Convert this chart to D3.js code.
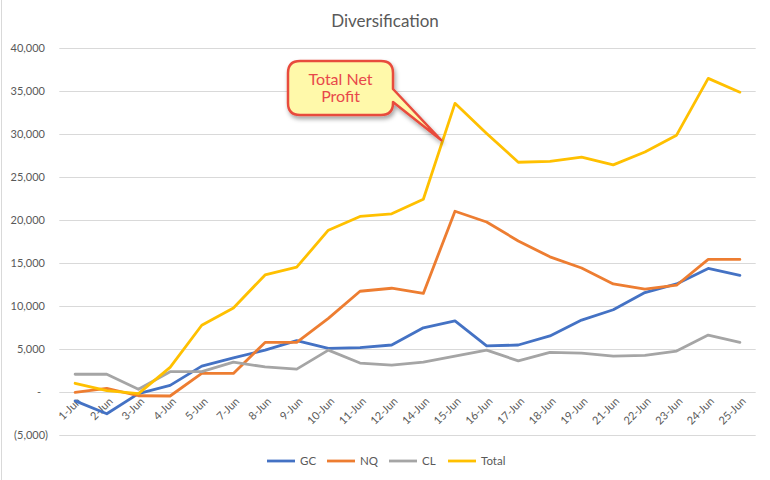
<!DOCTYPE html>
<html>
<head>
<meta charset="utf-8">
<script src="https://cdn.jsdelivr.net/npm/d3@7"></script>
<style>
    body { margin: 0; background: #fff; }
    svg { display: block; font-family: Lato, "Noto Sans", sans-serif; }
</style>
</head>
<body>
<svg id="chart"></svg>
<script>
const WIDTH = 770;
const HEIGHT = 480;

// data
const dates = ['1-Jun', '2-Jun', '3-Jun', '4-Jun', '5-Jun', '7-Jun', '8-Jun', '9-Jun', '10-Jun', '11-Jun', '12-Jun',
    '14-Jun', '15-Jun', '16-Jun', '17-Jun', '18-Jun', '19-Jun', '21-Jun', '22-Jun', '23-Jun', '24-Jun', '25-Jun'];
const gcValues = [-1000, -2500, -150, 800, 3050, 4000, 4900, 6000, 5100, 5200, 5500,
    7500, 8300, 5400, 5500, 6550, 8400, 9600, 11600, 12600, 14400, 13600];
const nqValues = [0, 450, -400, -430, 2200, 2200, 5800, 5800, 8600, 11750, 12100,
    11500, 21050, 19800, 17600, 15750, 14450, 12600, 12000, 12450, 15450, 15450];
const clValues = [2100, 2100, 350, 2400, 2400, 3500, 2950, 2700, 4900, 3400, 3150,
    3500, 4200, 4900, 3650, 4650, 4550, 4200, 4300, 4800, 6650, 5800];
const totalValues = [1050, 200, -150, 2900, 7800, 9800, 13650, 14550, 18850, 20450, 20750,
    22450, 33600, 30100, 26750, 26850, 27350, 26450, 27950, 29900, 36500, 34900];
const yTicks = [-5000, 0, 5000, 10000, 15000, 20000, 25000, 30000, 35000, 40000];

const seriesNames = ['GC', 'NQ', 'CL', 'Total'];
const seriesValues = [gcValues, nqValues, clValues, totalValues];
const seriesColors = ['#4472C4', '#ED7D31', '#A5A5A5', '#FFC000'];

const margin = { left: 59.3, right: 14.3, top: 48.3, bottom: 44.7 };

const svg = d3.select('#chart')
    .attr('width', WIDTH)
    .attr('height', HEIGHT);

// chart frame (only left edge visible in the crop)
svg.append('line')
    .attr('x1', 1.5).attr('x2', 1.5)
    .attr('y1', 0).attr('y2', HEIGHT)
    .attr('stroke', '#D9D9D9');

const x = d3.scalePoint()
    .domain(dates)
    .range([margin.left, WIDTH - margin.right])
    .padding(0.5);

const y = d3.scaleLinear()
    .domain([-5000, 40000])
    .range([HEIGHT - margin.bottom, margin.top]);

// title
svg.append('text')
    .attr('x', 385)
    .attr('y', 27)
    .attr('text-anchor', 'middle')
    .style('font-size', '17px')
    .style('fill', '#595959')
    .text('Diversification');

// gridlines
svg.append('g')
    .selectAll('line')
    .data(yTicks)
    .enter().append('line')
    .attr('x1', margin.left)
    .attr('x2', WIDTH - margin.right)
    .attr('y1', d => Math.round(y(d)) + 0.5)
    .attr('y2', d => Math.round(y(d)) + 0.5)
    .attr('stroke', '#D9D9D9')
    .attr('stroke-width', 1);

// y axis labels, accounting style
const fmt = d3.format(',');
svg.append('g')
    .selectAll('text')
    .data(yTicks)
    .enter().append('text')
    .attr('x', d => d < 0 ? 48 : (d === 0 ? 41 : 45))
    .attr('y', d => y(d) + 4)
    .attr('text-anchor', 'end')
    .style('font-size', '11px')
    .style('fill', '#595959')
    .text(d => d < 0 ? `(${fmt(-d)})` : (d === 0 ? '-' : fmt(d)));

// x axis labels, rotated
svg.append('g')
    .selectAll('text')
    .data(dates)
    .enter().append('text')
    .attr('transform', d => `translate(${x(d) + 4}, ${y(0) + 7}) rotate(-45)`)
    .attr('text-anchor', 'end')
    .attr('dy', '0.35em')
    .style('font-size', '11px')
    .style('fill', '#595959')
    .text(d => d);

// series lines
const line = d3.line()
    .x((d, i) => x(dates[i]))
    .y(d => y(d));

svg.append('g')
    .selectAll('path')
    .data(seriesValues)
    .enter().append('path')
    .attr('d', d => line(d))
    .attr('fill', 'none')
    .attr('stroke', (d, i) => seriesColors[i])
    .attr('stroke-width', 2.8)
    .attr('stroke-linejoin', 'round')
    .attr('stroke-linecap', 'round');

// callout with pointer to the Total line
const defs = svg.append('defs');
const shadow = defs.append('filter')
    .attr('id', 'shadow')
    .attr('x', '-20%').attr('y', '-20%')
    .attr('width', '150%').attr('height', '160%');
shadow.append('feDropShadow')
    .attr('dx', 1.5).attr('dy', 3)
    .attr('stdDeviation', 2)
    .attr('flood-color', '#000')
    .attr('flood-opacity', 0.35);

const tipX = x('14-Jun') + 0.57 * x.step();
const tipY = y(29300);
const bx0 = 288, by0 = 61, bx1 = 393, by1 = 115, r = 12;
const calloutPath = [
    `M${bx0 + r},${by0}`,
    `H${bx1 - r}`,
    `Q${bx1},${by0} ${bx1},${by0 + r}`,
    `V89`,
    `L${tipX},${tipY}`,
    `L${bx1},102`,
    `V${by1 - r}`,
    `Q${bx1},${by1} ${bx1 - r},${by1}`,
    `H${bx0 + r}`,
    `Q${bx0},${by1} ${bx0},${by1 - r}`,
    `V${by0 + r}`,
    `Q${bx0},${by0} ${bx0 + r},${by0}`,
    'Z'
].join(' ');

const callout = svg.append('g');
callout.append('path')
    .attr('d', calloutPath)
    .attr('fill', '#FFF9AA')
    .attr('stroke', '#E84C3D')
    .attr('stroke-width', 2.5)
    .attr('stroke-linejoin', 'round')
    .attr('filter', 'url(#shadow)');

callout.append('text')
    .attr('x', (bx0 + bx1) / 2)
    .attr('y', 84.5)
    .attr('text-anchor', 'middle')
    .style('font-size', '16px')
    .style('fill', '#E8474A')
    .text('Total Net');
callout.append('text')
    .attr('x', (bx0 + bx1) / 2)
    .attr('y', 102)
    .attr('text-anchor', 'middle')
    .style('font-size', '16px')
    .style('fill', '#E8474A')
    .text('Profit');

// legend
const legendX = [267, 327, 389, 448];
const legend = svg.append('g')
    .selectAll('g')
    .data(seriesNames)
    .enter().append('g')
    .attr('transform', (d, i) => `translate(${legendX[i]}, 461)`);

legend.append('line')
    .attr('x1', 0).attr('x2', 28)
    .attr('stroke', (d, i) => seriesColors[i])
    .attr('stroke-width', 2.8);

legend.append('text')
    .attr('x', 33)
    .attr('y', 4)
    .style('font-size', '11.5px')
    .style('fill', '#595959')
    .text(d => d);
</script>
</body>
</html>
